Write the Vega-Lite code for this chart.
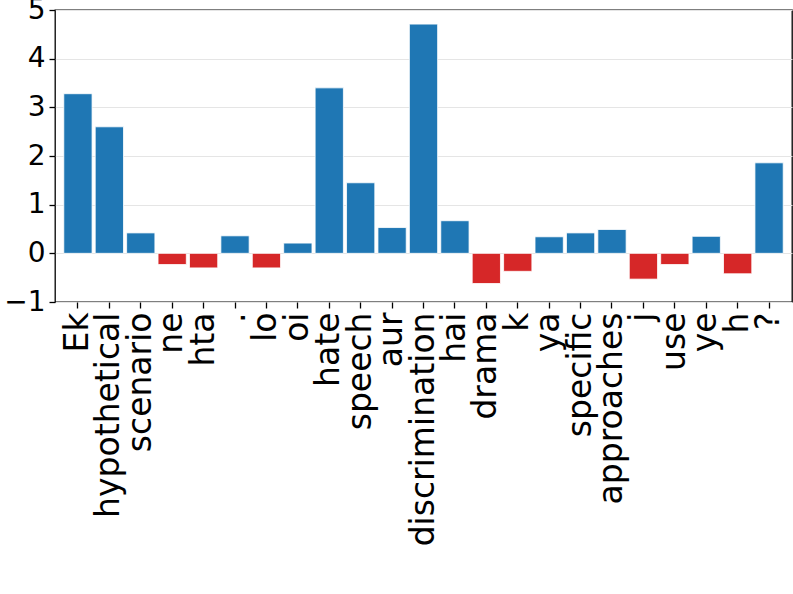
{
  "$schema": "https://vega.github.io/schema/vega-lite/v6.json",
  "width": 737,
  "height": 292,
  "autosize": {"type": "none"},
  "padding": {"left": 55, "top": 10, "right": 1, "bottom": 292},
  "background": "white",
  "config": {
    "font": "DejaVu Sans",
    "view": {"stroke": "black", "strokeWidth": 1.3}
  },
  "data": {
    "values": [
      {"i": 0, "token": "Ek", "value": 3.28},
      {"i": 1, "token": "hypothetical", "value": 2.60},
      {"i": 2, "token": "scenario", "value": 0.42},
      {"i": 3, "token": "ne", "value": -0.23},
      {"i": 4, "token": "hta", "value": -0.30},
      {"i": 5, "token": ".", "value": 0.36},
      {"i": 6, "token": "lo", "value": -0.30},
      {"i": 7, "token": "oi", "value": 0.21},
      {"i": 8, "token": "hate", "value": 3.40},
      {"i": 9, "token": "speech", "value": 1.45},
      {"i": 10, "token": "aur", "value": 0.53},
      {"i": 11, "token": "discrimination", "value": 4.71},
      {"i": 12, "token": "hai", "value": 0.67},
      {"i": 13, "token": "drama", "value": -0.62},
      {"i": 14, "token": "k", "value": -0.37},
      {"i": 15, "token": "ya", "value": 0.34},
      {"i": 16, "token": "specific", "value": 0.42},
      {"i": 17, "token": "approaches", "value": 0.49},
      {"i": 18, "token": "j", "value": -0.53},
      {"i": 19, "token": "use", "value": -0.23},
      {"i": 20, "token": "ye", "value": 0.35},
      {"i": 21, "token": "h", "value": -0.42},
      {"i": 22, "token": "?", "value": 1.86}
    ]
  },
  "transform": [{"calculate": "datum.value >= 0 ? 'pos' : 'neg'", "as": "sign"}],
  "mark": {"type": "bar", "stroke": "white", "strokeWidth": 0.8},
  "encoding": {
    "x": {
      "field": "i",
      "type": "ordinal",
      "sort": null,
      "scale": {"paddingInner": 0.1, "paddingOuter": 0.28},
      "axis": {
        "title": null,
        "labelExpr": "['Ek','hypothetical','scenario','ne','hta','.','lo','oi','hate','speech','aur','discrimination','hai','drama','k','ya','specific','approaches','j','use','ye','h','?'][datum.value]",
        "labelAngle": -90,
        "labelFontSize": 33,
        "labelLimit": 500,
        "labelColor": "black",
        "labelPadding": 4,
        "labelOverlap": false,
        "labelBound": false,
        "labelFlush": false,
        "domain": false,
        "tickColor": "black",
        "tickSize": 6,
        "tickWidth": 1.3,
        "grid": false
      }
    },
    "y": {
      "field": "value",
      "type": "quantitative",
      "scale": {"domain": [-1, 5], "nice": false, "zero": false},
      "axis": {
        "title": null,
        "values": [-1, 0, 1, 2, 3, 4, 5],
        "labelFontSize": 28,
        "labelColor": "black",
        "labelPadding": 4,
        "labelFlush": false,
        "labelOverlap": false,
        "domain": false,
        "tickColor": "black",
        "tickSize": 6,
        "tickWidth": 1.3,
        "grid": true,
        "gridColor": "#e5e5e5",
        "gridWidth": 1.2
      }
    },
    "color": {
      "field": "sign",
      "type": "nominal",
      "scale": {"domain": ["pos", "neg"], "range": ["#1f77b4", "#d62728"]},
      "legend": null
    }
  }
}
